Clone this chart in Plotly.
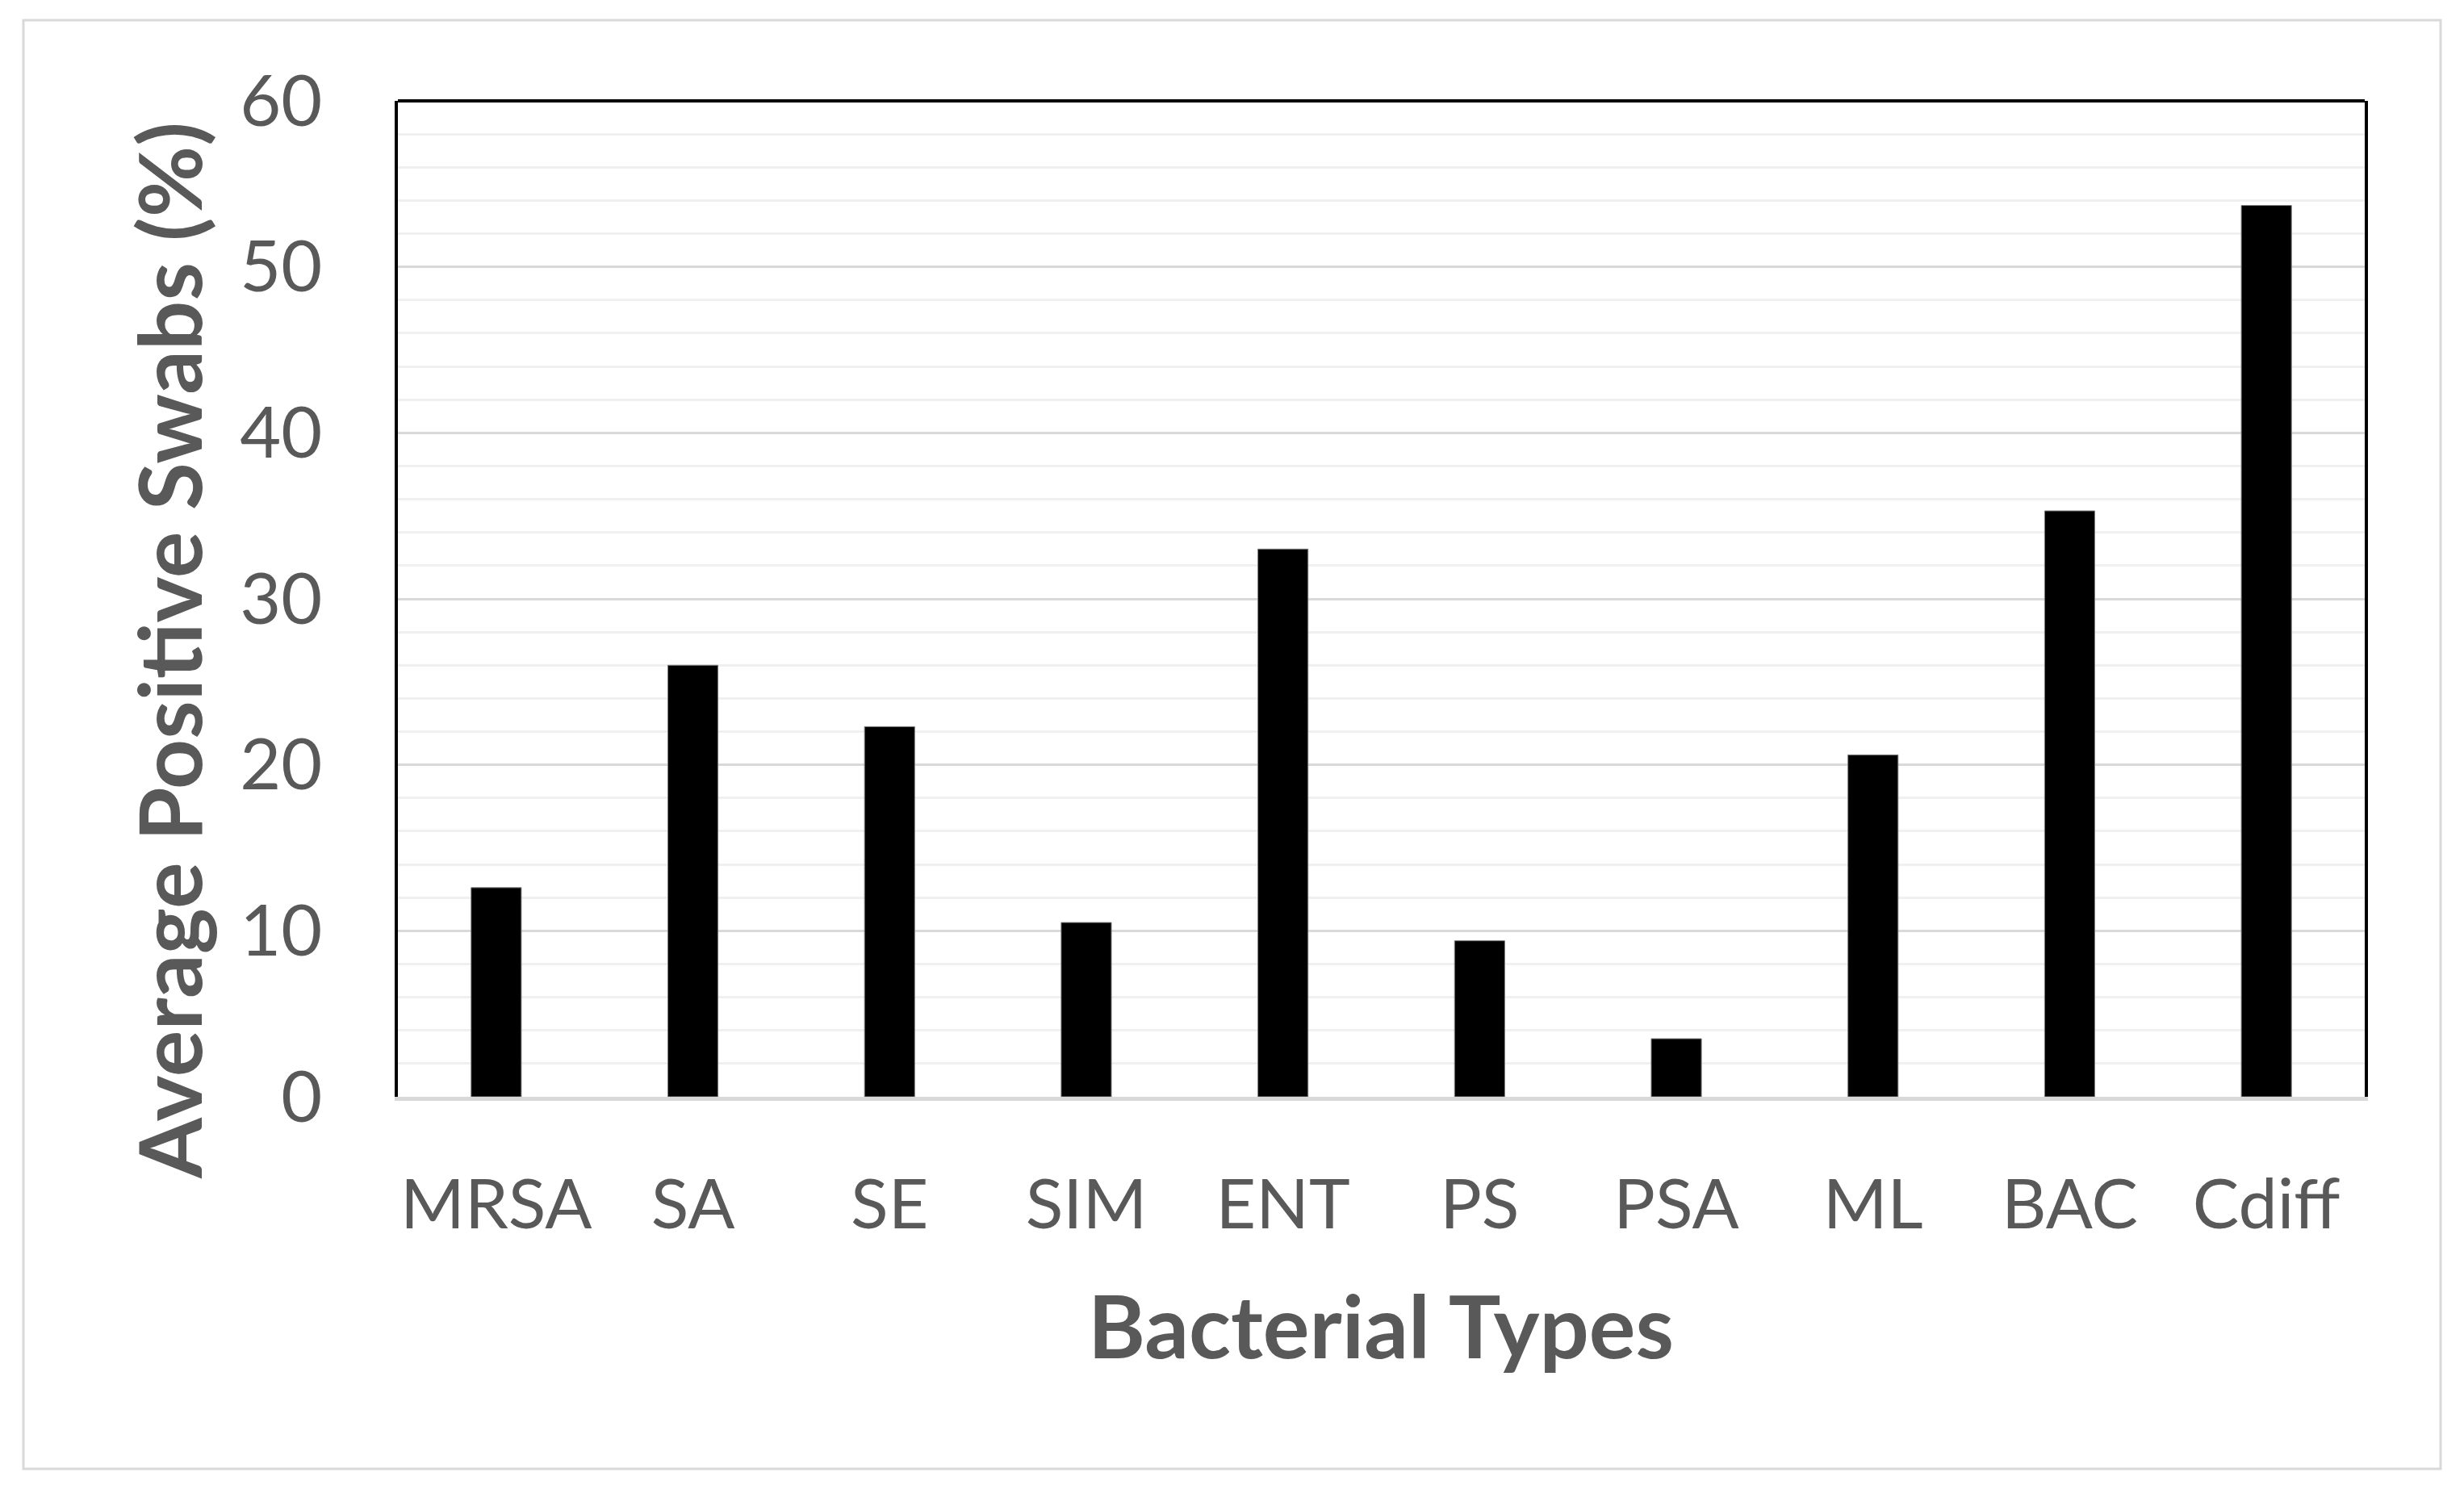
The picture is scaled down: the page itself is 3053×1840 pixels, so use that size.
import plotly.graph_objects as go

categories = ["MRSA", "SA", "SE", "SIM", "ENT", "PS", "PSA", "ML", "BAC", "Cdiff"]
values = [12.6, 26.0, 22.3, 10.5, 33.0, 9.4, 3.5, 20.6, 35.3, 53.7]
y_ticks = [0, 10, 20, 30, 40, 50, 60]

W, H = 3053, 1840
OFF = 8  # page body offset
L, R, T, B = 493 - OFF, 123 + OFF, 125 - OFF, 481 + OFF
pw, ph = W - L - R, H - T - B

def px(xfull):
    return (xfull - OFF - L) / pw

def py(yfull):
    return (H - B - (yfull - OFF)) / ph

fig = go.Figure()
fig.add_trace(go.Bar(
    x=categories, y=values, width=0.255,
    marker=dict(color="#000000", line=dict(color="#7f7f7f", width=1)),
))

text_col = "#595959"
fig.update_layout(
    width=W, height=H,
    margin=dict(l=L, r=R, t=T, b=B),
    paper_bgcolor="white", plot_bgcolor="white",
    showlegend=False,
    font=dict(family="Lato", color=text_col),
)
fig.update_yaxes(
    range=[0, 60], tickvals=y_ticks,
    tickfont=dict(family="Lato", size=88, color=text_col),
    showgrid=True, gridcolor="#d9d9d9", gridwidth=3,
    minor=dict(dtick=2, showgrid=True, gridcolor="#f0f0f0", gridwidth=3),
    showline=True, linecolor="#000000", linewidth=4, mirror=True,
    ticks="", ticklabelstandoff=72, zeroline=False,
)
fig.update_xaxes(
    tickfont=dict(family="Lato", size=86, color=text_col),
    showline=True, linecolor="#d9d9d9", linewidth=5,
    ticks="", ticklabelstandoff=55, showgrid=False,
)
# top frame line
fig.add_shape(type="line", xref="paper", yref="paper", x0=0, x1=1, y0=1, y1=1,
              line=dict(color="#000000", width=4))
# outer chart border
fig.add_shape(type="rect", xref="paper", yref="paper",
              x0=px(29), x1=px(3024), y0=py(1820), y1=py(25),
              line=dict(color="#d9d9d9", width=3), layer="below")
# axis titles
fig.add_annotation(text="<b>Bacterial Types</b>", xref="paper", yref="paper",
                   x=px(1711), y=py(1641), showarrow=False,
                   font=dict(family="Lato", size=108, color=text_col),
                   xanchor="center", yanchor="middle")
fig.add_annotation(text="<b>Average Positive Swabs (%)</b>", xref="paper", yref="paper",
                   x=px(208), y=py(806), showarrow=False, textangle=-90,
                   font=dict(family="Lato", size=108, color=text_col),
                   xanchor="center", yanchor="middle")

fig.write_html("out.html")
